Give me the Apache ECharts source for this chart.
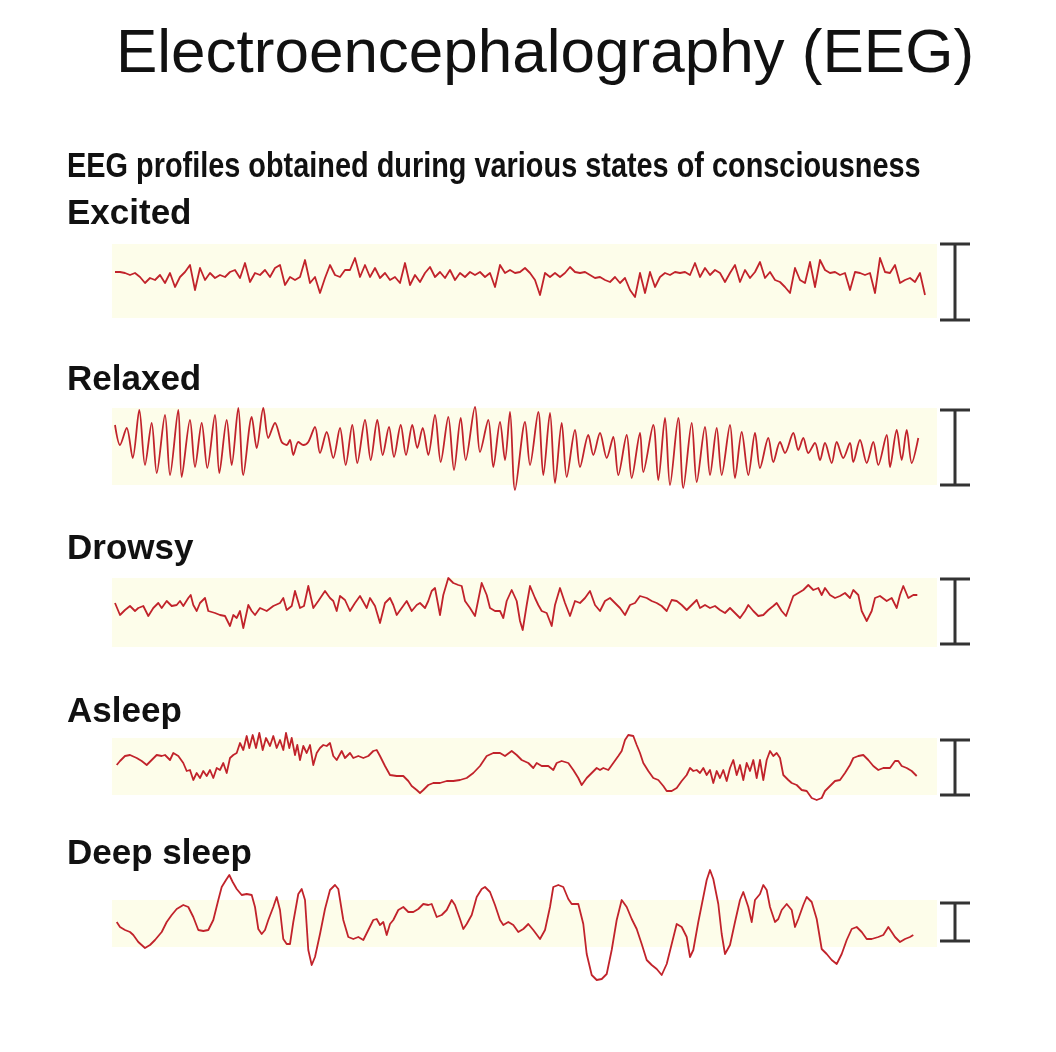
<!DOCTYPE html>
<html><head><meta charset="utf-8">
<script src="https://cdn.jsdelivr.net/npm/echarts@6/dist/echarts.min.js"></script>
<style>html,body{margin:0;padding:0;background:#fff}#c{width:1056px;height:1052px}</style>
</head><body><div id="c"></div>
<script>
// ---- data (time in ms, amplitude in display units, positive = up) ----
const titleText = 'Electroencephalography (EEG)';
const subtitleText = 'EEG profiles obtained during various states of consciousness';
const stateNames = ['Excited', 'Relaxed', 'Drowsy', 'Asleep', 'Deep sleep'];

const excitedStepMs = 50;
const excitedV = [
3,3,2,0,2,-2,-8,-3,-5,0,
-8,2,-12,-2,3,10,-15,7,-5,2,
-3,0,-2,3,5,-3,12,-7,2,0,
5,-2,7,10,-10,-2,-5,-2,15,-8,
-2,-18,-3,10,0,-2,5,5,17,-2,
10,-2,7,-3,2,-5,-2,-8,12,-10,
0,-7,2,8,-2,3,-3,5,-5,2,
-2,3,0,3,-2,2,-12,10,2,5,
2,3,7,2,-5,-20,2,-2,2,-2,
2,8,3,2,3,0,-3,-2,-5,-7,
-2,-8,-3,-15,-22,2,-18,3,-12,-2,
2,0,3,2,3,0,12,-2,7,0,
5,2,-7,2,10,-7,5,-3,3,13,
-3,3,-5,-7,-12,-18,7,-5,-8,13,
-12,15,5,2,3,0,2,-15,3,2,
0,2,-18,17,3,2,10,-8,-5,-3,
-7,2,-20];

const relaxedT = [
0,50,117,177,243,300,367,417,500,550,
633,667,750,800,867,923,1000,1043,1117,1167,
1233,1283,1367,1417,1483,1533,1600,1667,1717,1750,
1783,1833,1883,1933,2000,2050,2117,2183,2250,2307,
2373,2423,2500,2557,2623,2677,2740,2790,2857,2910,
2973,3023,3077,3133,3200,3257,3333,3390,3457,3507,
3600,3650,3733,3783,3850,3900,3950,4000,4100,4150,
4233,4283,4350,4400,4467,4517,4600,4650,4733,4783,
4850,4917,4983,5033,5117,5167,5250,5283,5383,5433,
5500,5550,5633,5683,5767,5817,5900,5950,6017,6067,
6150,6200,6267,6333,6400,6450,6533,6583,6650,6700,
6783,6833,6883,6933,7000,7050,7100,7167,7217,7283,
7350,7383,7450,7517,7583,7633,7717,7750,7817,7867,
7917,7967,8033];
const relaxedV = [
20,0,17,-13,35,-20,22,-28,30,-30,
35,-32,25,-22,22,-23,30,-28,25,-20,
37,-30,28,-3,37,7,22,3,0,5,
-10,3,0,3,18,-8,13,-13,17,-20,
20,-18,25,-15,25,-10,18,-12,20,-10,
20,-3,17,-10,30,-17,28,-25,27,-15,
38,-7,25,-22,23,-15,33,-45,23,-20,
33,-30,32,-38,22,-32,15,-22,10,-10,
12,-13,8,-30,10,-33,12,-27,20,-35,
27,-40,27,-43,22,-37,18,-30,17,-30,
20,-33,13,-30,12,-23,7,-17,3,-8,
12,-5,7,-8,2,-15,2,-18,3,-13,
2,-17,5,-18,3,-20,10,-22,15,-15,
15,-18,7];

const drowsyT = [
0,50,100,150,200,233,283,333,383,433,
467,517,567,617,650,683,733,757,783,817,
850,900,933,1000,1050,1100,1150,1183,1217,1250,
1283,1333,1367,1400,1450,1517,1583,1650,1683,1717,
1767,1800,1850,1890,1933,1983,2033,2100,2150,2183,
2217,2250,2300,2350,2400,2450,2517,2550,2600,2650,
2700,2750,2783,2817,2867,2917,2967,3017,3050,3100,
3133,3167,3200,3250,3283,3333,3383,3433,3467,3500,
3550,3600,3667,3717,3750,3800,3850,
3883,3917,3967,4017,4050,4077,4117,4150,4200,4233,
4267,4317,4367,4400,4450,4500,4550,4600,4650,4700,
4750,4800,4850,4900,4950,5000,5050,5100,5150,5200,
5250,5317,5367,5417,5467,5517,5567,5617,5667,5717,
5767,5817,5850,5900,5950,6000,6050,6100,6150,6200,
6250,6300,6333,6383,6433,6483,6533,6583,6617,6667,
6710,6750,6783,6833,6883,6933,6983,7033,7067,7100,
7150,7200,7250,7300,7350,7383,7433,7467,7517,7567,
7600,7650,7717,7767,7817,7850,7883,7933,7983,8023];
const drowsyV = [
5,-7,-2,2,-3,0,2,-8,0,5,
0,7,2,3,7,2,10,13,3,-3,
5,10,-3,-5,-7,-8,-18,-7,-10,-3,
-20,3,-3,-7,0,-3,2,5,10,-2,
2,17,0,2,22,0,7,17,10,7,
-3,12,8,-3,5,12,0,10,2,-15,
5,10,3,-7,0,7,-3,3,5,0,
7,17,20,-7,13,30,25,23,22,7,
0,-8,25,13,0,-3,-3,
-10,7,18,7,-13,-22,3,22,10,3,
-3,-5,-18,3,20,5,-8,7,5,10,
17,3,-3,7,10,5,0,-7,3,5,
12,10,7,5,2,-3,8,7,3,-2,
3,8,0,3,0,2,-2,-5,0,-5,
-10,-3,3,-3,-8,-7,-2,2,5,-3,
-8,3,12,15,18,23,18,20,13,20,
13,10,12,15,10,18,13,-3,-13,-3,
10,12,7,10,0,13,22,10,13,13];

const asleepT = [
17,50,100,150,217,267,317,367,417,467,
500,550,583,633,683,717,750,783,817,850,
883,917,950,983,1017,1050,1083,1117,1150,1183,
1217,1250,1283,1317,1343,1377,1410,1443,1477,1510,
1550,1583,1617,1650,1683,1710,1743,1767,1800,1823,
1850,1883,1917,1950,1983,2017,2050,2083,2117,2150,
2183,2217,2267,2300,2350,2383,2433,2483,2533,2583,
2617,2650,2700,2750,2817,2883,2933,2967,3017,3050,
3083,3133,3183,3250,3317,3383,3450,3517,3583,3650,
3717,3783,3850,
3900,3967,4017,4067,4133,4183,4217,4267,4333,4383,
4417,4467,4533,4583,4633,4667,4717,4767,4817,4850,
4883,4933,4983,5033,5067,5100,5133,5183,5217,5250,
5283,5333,5383,5433,5483,5517,5567,5617,5667,5717,
5750,5783,5817,5850,5883,5917,5950,5983,6017,6050,
6083,6117,6150,6183,6217,6250,6283,6317,6350,6383,
6417,6450,6483,6517,6550,6583,6617,6650,6683,6733,
6767,6817,6867,6917,6967,7017,7067,7100,7150,7200,
7250,7300,7350,7383,7433,7483,7533,7583,7633,7683,
7750,7800,7833,7867,7917,7967,8017];
const asleepV = [
-2,2,7,8,5,2,-2,3,8,7,
8,3,10,7,0,-8,-7,-17,-10,-15,
-8,-13,-7,-15,-5,-7,0,-10,5,8,
10,20,13,27,15,28,15,30,13,25,
17,27,15,23,13,30,15,25,8,18,
3,17,10,18,-2,10,15,18,17,20,
7,3,12,5,10,5,7,5,7,12,
13,7,-3,-12,-13,-13,-18,-23,-27,-30,
-27,-22,-20,-20,-18,-18,-17,-15,-10,-3,
7,10,10,
7,12,8,3,0,-5,0,-3,-3,-7,
0,2,0,-7,-15,-22,-15,-10,-5,-7,
-5,-7,0,7,12,23,28,27,18,10,
0,-8,-15,-17,-23,-28,-28,-25,-18,-12,
-5,-8,-7,-10,-5,-12,-7,-20,-8,-15,
-7,-18,-5,3,-12,-2,-17,0,-8,3,
-15,3,-17,3,12,7,10,5,-12,-17,
-20,-22,-27,-28,-35,-37,-35,-28,-23,-18,
-17,-10,-2,5,7,8,3,-3,-7,-5,
-5,2,2,-3,-5,-8,-13];

const deepT = [
17,50,100,150,183,233,300,350,400,467,
517,567,617,683,733,783,833,883,933,983,
1033,1067,1110,1143,1177,1217,1267,1317,1367,1400,
1433,1467,1500,1533,1583,1617,1650,1683,1717,1750,
1783,1833,1867,1900,1933,1967,2000,2050,2100,2150,
2200,2233,2283,2333,2383,2433,2483,2533,2583,2617,
2650,2683,2717,2750,2783,2833,2883,2933,2983,3033,
3083,3133,3167,3217,3267,3317,3367,3400,3450,3483,
3517,3567,3617,3667,3700,3750,3800,3850,3883,3933,
3983,
4033,4083,4133,4183,4250,4300,4350,4383,4433,4483,
4533,4567,4633,4683,4717,4767,4817,4867,4917,4967,
5017,5067,5117,5167,5217,5267,5317,5367,5417,5467,
5517,5567,5617,5667,5717,5750,5783,5833,5883,5917,
5950,5983,6033,6067,6100,6150,6200,6250,6283,6333,
6367,6400,6450,6483,6517,6550,6600,6633,6667,6717,
6767,6800,6833,6883,6917,6967,7017,7067,7117,7167,
7217,7267,7317,7367,7417,7467,7517,7567,7633,7683,
7733,7767,7800,7850,7900,7950,7983];
const deepV = [
5,0,-3,-5,-8,-15,-21,-18,-13,-5,
5,12,18,22,20,10,-3,-4,-3,7,
27,40,47,52,45,38,32,33,32,20,
-2,-7,-3,7,20,30,17,-12,-17,-17,
5,33,38,27,-23,-38,-30,-7,18,37,
42,38,7,-10,-12,-10,-13,-3,7,8,
2,5,-8,3,7,17,20,15,15,18,
23,22,23,10,12,17,27,22,8,-2,
3,12,30,38,40,35,22,7,2,5,
2,
-5,-2,3,-3,-12,-3,20,40,42,40,
28,23,23,3,-27,-48,-53,-52,-47,-23,
7,27,20,8,-2,-17,-33,-38,-42,-48,
-37,-17,3,0,-10,-30,-23,5,30,47,
57,48,23,-7,-27,-18,5,27,35,20,
5,27,33,42,37,20,5,8,17,23,
17,0,8,22,30,25,8,-22,-27,-33,
-37,-27,-13,-2,0,-5,-12,-12,-10,-8,
0,-5,-10,-15,-12,-10,-8];

// scale bar: time position (ms) and [top, bottom] amplitude for each state
const scaleBarT = 8400;
const scaleBarRange = [[31, -45], [35, -40], [29, -36], [23, -32], [24, -14]];

// ---- build series data from the arrays ----
const pairs = (t, v) => t.map((x, i) => [x, v[i]]);
const traces = [
  excitedV.map((v, i) => [i * excitedStepMs, v]),
  pairs(relaxedT, relaxedV),
  pairs(drowsyT, drowsyV),
  pairs(asleepT, asleepV),
  pairs(deepT, deepV)
];

// ---- layout (pixels) ----
const layout = [
  { top: 244, height: 74, base: 275, label: 214 },
  { top: 408, height: 77, base: 445, label: 380 },
  { top: 578, height: 69, base: 608, label: 549 },
  { top: 738, height: 57, base: 763, label: 712 },
  { top: 900, height: 47, base: 927, label: 854 }
];
const gridLeft = 112, gridWidth = 825;
const xMin = -30, xMax = 8220;

const chart = echarts.init(document.getElementById('c'), null, { renderer: 'canvas' });

const grid = [], xAxis = [], yAxis = [], series = [];
layout.forEach((L, i) => {
  grid.push({ left: gridLeft, width: gridWidth, top: L.top, height: L.height,
    show: true, backgroundColor: '#fdfdea', borderWidth: 0 });
  xAxis.push({ gridIndex: i, type: 'value', min: xMin, max: xMax, show: false });
  yAxis.push({ gridIndex: i, type: 'value', min: -(L.top + L.height - L.base), max: L.base - L.top, show: false });
  series.push({
    type: 'line', name: stateNames[i], xAxisIndex: i, yAxisIndex: i,
    data: traces[i], showSymbol: false, symbol: 'none', clip: false, silent: true,
    smooth: i === 1 ? 0.3 : false,
    lineStyle: { color: '#c1232b', width: 1.8, join: 'round' }
  });
  series.push({
    type: 'custom', xAxisIndex: i, yAxisIndex: i, clip: false, silent: true,
    data: [[scaleBarT, scaleBarRange[i][0], scaleBarRange[i][1]]],
    encode: { x: 0, y: [1, 2] },
    renderItem: (params, api) => {
      const a = api.coord([api.value(0), api.value(1)]);
      const b = api.coord([api.value(0), api.value(2)]);
      const s = { stroke: '#333333', lineWidth: 3 };
      return { type: 'group', children: [
        { type: 'line', shape: { x1: a[0], y1: a[1], x2: b[0], y2: b[1] }, style: s },
        { type: 'line', shape: { x1: a[0] - 15, y1: a[1], x2: a[0] + 15, y2: a[1] }, style: s },
        { type: 'line', shape: { x1: b[0] - 15, y1: b[1], x2: b[0] + 15, y2: b[1] }, style: s }
      ] };
    }
  });
});

const graphic = [
  { type: 'text', x: 545, y: 55, style: { text: titleText, fill: '#111',
      font: 'normal 62px "Liberation Sans", Arial, sans-serif', align: 'center', verticalAlign: 'middle' } },
  { type: 'text', x: 67, y: 167, scaleX: 0.825, style: { text: subtitleText, fill: '#111',
      font: 'bold 35px "Liberation Sans", Arial, sans-serif', verticalAlign: 'middle' } }
];
layout.forEach((L, i) => {
  graphic.push({ type: 'text', x: 67, y: L.label, style: { text: stateNames[i], fill: '#111',
    font: 'bold 35px "Liberation Sans", Arial, sans-serif', verticalAlign: 'middle' } });
});

chart.setOption({
  animation: false,
  backgroundColor: '#ffffff',
  grid, xAxis, yAxis, series, graphic
});
</script>
</body></html>
